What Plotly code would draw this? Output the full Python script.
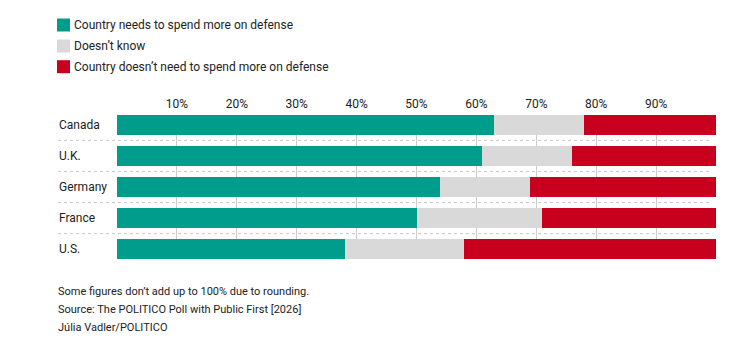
import plotly.graph_objects as go

categories = ["Canada", "U.K.", "Germany", "France", "U.S."]
needs_more = [63, 61, 54, 50, 38]
doesnt_know = [15, 15, 15, 21, 20]
doesnt_need = [22, 24, 31, 29, 42]
series_names = [
    "Country needs to spend more on defense",
    "Doesn’t know",
    "Country doesn’t need to spend more on defense",
]
series_colors = ["#009c8c", "#d9d9d9", "#c8001e"]
tick_values = [10, 20, 30, 40, 50, 60, 70, 80, 90]
tick_labels = ["10%", "20%", "30%", "40%", "50%", "60%", "70%", "80%", "90%"]
footer_lines = [
    "Some figures don’t add up to 100% due to rounding.",
    "Source: The POLITICO Poll with Public First [2026]",
    "Júlia Vadler/POLITICO",
]

FONT = "Roboto, Arial, sans-serif"
TXT = "#222222"
W, H = 755, 344
PL, PR, PT, PB = 117, 716, 115, 259  # plot area in pixels


def px_x(px):
    return (px - PL) / (PR - PL)


def px_y(py):
    return (PB - py) / (PB - PT)


fig = go.Figure()
for name, vals, col in zip(series_names, [needs_more, doesnt_know, doesnt_need], series_colors):
    fig.add_trace(go.Bar(
        y=categories, x=vals, name=name, orientation="h",
        marker=dict(color=col, line=dict(width=0)), showlegend=False,
        hoverinfo="skip",
    ))

shapes = []
annotations = []

# dotted separators between rows
for i in range(len(categories) - 1):
    shapes.append(dict(type="line", xref="paper", yref="y",
                       x0=px_x(58), x1=px_x(712), y0=i + 0.5, y1=i + 0.5,
                       line=dict(color="#c8c8c8", width=1, dash="dot"), layer="below"))

# category labels (left aligned)
for c in categories:
    annotations.append(dict(text=c, xref="paper", yref="y", x=px_x(57), y=c,
                            xanchor="left", yanchor="middle", showarrow=False,
                            font=dict(family=FONT, size=12, color=TXT)))

# legend
leg_centers = [25, 46, 66.7]
for name, col, cy in zip(series_names, series_colors, leg_centers):
    shapes.append(dict(type="rect", xref="paper", yref="paper",
                       x0=px_x(57), x1=px_x(70), y0=px_y(cy - 6.5), y1=px_y(cy + 6.5),
                       fillcolor=col, line=dict(width=0)))
    annotations.append(dict(text=name, xref="paper", yref="paper", x=px_x(72), y=px_y(cy),
                            xanchor="left", yanchor="middle", showarrow=False,
                            font=dict(family=FONT, size=12, color=TXT)))

# footer
for line, cy in zip(footer_lines, [291, 309, 327]):
    annotations.append(dict(text=line, xref="paper", yref="paper", x=px_x(56), y=px_y(cy),
                            xanchor="left", yanchor="middle", showarrow=False,
                            font=dict(family=FONT, size=11, color=TXT)))

fig.update_layout(
    width=W, height=H,
    margin=dict(l=PL, r=W - PR, t=PT, b=H - PB, pad=0),
    barmode="stack", bargap=0.37,
    paper_bgcolor="white", plot_bgcolor="white",
    xaxis=dict(range=[0, 100], side="top", tickvals=tick_values, ticktext=tick_labels,
               showgrid=True, gridcolor="#cccccc", gridwidth=1, zeroline=False,
               showline=False, ticks="", ticklabelstandoff=4,
               tickfont=dict(family=FONT, size=12, color=TXT),
               fixedrange=True),
    yaxis=dict(range=[len(categories) - 1 + 0.315, -0.315], showticklabels=False,
               showgrid=False, zeroline=False, showline=False, ticks="", fixedrange=True),
    shapes=shapes, annotations=annotations,
    showlegend=False,
)

fig.write_html("out.html")
